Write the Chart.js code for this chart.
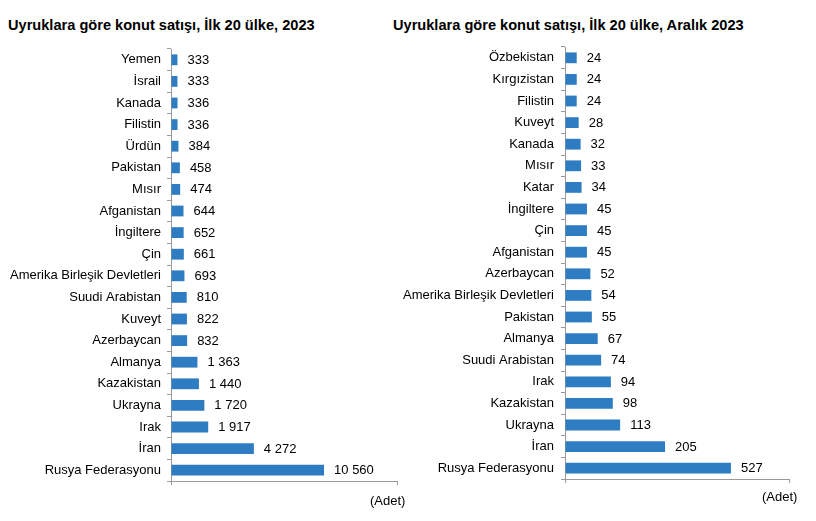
<!DOCTYPE html>
<html>
<head>
<meta charset="utf-8">
<script src="https://cdn.jsdelivr.net/npm/chart.js@4/dist/chart.umd.min.js"></script>
<style>
  html, body { margin: 0; padding: 0; background: #fff; }
  body { width: 816px; height: 521px; position: relative; overflow: hidden; font-family: "Liberation Sans", Arial, sans-serif; }
  .box { position: absolute; top: 0; height: 521px; }
  .title { position: absolute; font-weight: bold; font-size: 14.6px; color: #000; white-space: nowrap; line-height: 1; }
  .unit { position: absolute; font-size: 13px; color: #000; white-space: nowrap; line-height: 1; }
</style>
</head>
<body>
<div class="title" style="left:8px; top:18px;">Uyruklara göre konut satışı, İlk 20 ülke, 2023</div>
<div class="title" style="left:393px; top:18px;">Uyruklara göre konut satışı, İlk 20 ülke, Aralık 2023</div>
<div class="box" style="left:0; width:408px;"><canvas id="c1" width="408" height="521"></canvas></div>
<div class="box" style="left:390px; width:426px;"><canvas id="c2" width="426" height="521"></canvas></div>
<div class="unit" style="left:370px; top:494px;">(Adet)</div>
<div class="unit" style="left:762px; top:490px;">(Adet)</div>
<script>
// ---- Data ----
const countries2023 = ["Yemen","İsrail","Kanada","Filistin","Ürdün","Pakistan","Mısır","Afganistan","İngiltere","Çin","Amerika Birleşik Devletleri","Suudi Arabistan","Kuveyt","Azerbaycan","Almanya","Kazakistan","Ukrayna","Irak","İran","Rusya Federasyonu"];
const sales2023 = [333,333,336,336,384,458,474,644,652,661,693,810,822,832,1363,1440,1720,1917,4272,10560];
const axisMax2023 = 11650;
const barBreak2023 = 7890;   // longest bar is drawn shortened (broken) at this value

const countriesDec = ["Özbekistan","Kırgızistan","Filistin","Kuveyt","Kanada","Mısır","Katar","İngiltere","Çin","Afganistan","Azerbaycan","Amerika Birleşik Devletleri","Pakistan","Almanya","Suudi Arabistan","Irak","Kazakistan","Ukrayna","İran","Rusya Federasyonu"];
const salesDec = [24,24,24,28,32,33,34,45,45,45,52,54,55,67,74,94,98,113,205,527];
const axisMaxDec = 459;
const barBreakDec = 340;

// ---- Helpers ----
const FONT = '"Liberation Sans", Arial, sans-serif';
const BAR = '#2E7DC2';
const AXIS = '#9a9a9a';
function fmt(v){ return String(v).replace(/\B(?=(\d{3})+(?!\d))/g, ' '); }

const valueLabels = {
  id: 'valueLabels',
  afterDatasetsDraw(chart) {
    const ctx = chart.ctx;
    const meta = chart.getDatasetMeta(0);
    const vals = chart.options.plugins.valueLabels.values;
    ctx.save();
    ctx.font = '13px ' + FONT;
    ctx.fillStyle = '#000';
    ctx.textAlign = 'left';
    ctx.textBaseline = 'middle';
    meta.data.forEach((bar, i) => {
      ctx.fillText(fmt(vals[i]), bar.x + 10, bar.y + 0.5);
    });
    ctx.restore();
  }
};

function makeChart(id, labels, values, max, cap, geom) {
  const shown = values.map(v => Math.min(v, cap));
  return new Chart(document.getElementById(id), {
    type: 'bar',
    data: {
      labels: labels,
      datasets: [{ data: shown, backgroundColor: BAR, borderWidth: 0, categoryPercentage: 1, barPercentage: 0.5 }]
    },
    options: {
      indexAxis: 'y',
      responsive: false,
      animation: false,
      events: [],
      layout: { padding: { left: 0, top: geom.top, right: geom.right, bottom: geom.bottom } },
      plugins: { legend: { display: false }, title: { display: false }, tooltip: { enabled: false }, valueLabels: { values: values } },
      scales: {
        x: {
          min: 0, max: max,
          afterBuildTicks(s) { s.ticks = [{ value: 0 }, { value: max }]; },
          afterFit(s) { s.height = 4; },
          ticks: { display: false },
          grid: { drawOnChartArea: false, drawTicks: true, tickLength: 4, color: AXIS },
          border: { display: true, color: AXIS, width: 1 }
        },
        y: {
          afterFit(s) { s.width = geom.left; },
          ticks: { color: '#000', font: { family: FONT, size: 13 }, padding: geom.pad, autoSkip: false },
          grid: { drawOnChartArea: false, drawTicks: true, tickLength: 4, color: AXIS, offset: true },
          border: { display: true, color: AXIS, width: 1 }
        }
      }
    },
    plugins: [valueLabels]
  });
}

makeChart('c1', countries2023, sales2023, axisMax2023, barBreak2023, { left: 171, top: 49, right: 11, bottom: 36, pad: 6 });
makeChart('c2', countriesDec, salesDec, axisMaxDec, barBreakDec, { left: 175, top: 47, right: 27, bottom: 38, pad: 7 });
</script>
</body>
</html>
